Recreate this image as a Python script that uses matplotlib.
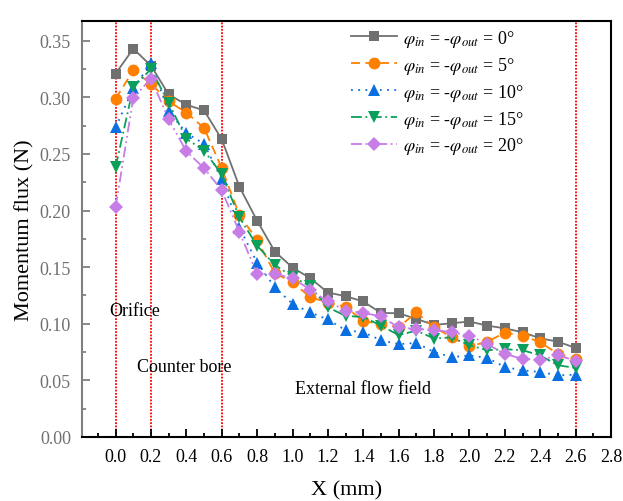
import matplotlib
matplotlib.use("Agg")
import matplotlib.pyplot as plt
from matplotlib.ticker import MultipleLocator, FormatStrFormatter

plt.rcParams['font.family'] = ['Liberation Serif', 'DejaVu Serif']
plt.rcParams['mathtext.fontset'] = 'stix'

x = [0.0, 0.1, 0.2, 0.3, 0.4, 0.5, 0.6, 0.7, 0.8, 0.9, 1.0, 1.1, 1.2, 1.3,
     1.4, 1.5, 1.6, 1.7, 1.8, 1.9, 2.0, 2.1, 2.2, 2.3, 2.4, 2.5, 2.6]

phi0 = [0.321, 0.343, 0.328, 0.3026, 0.2935, 0.2885, 0.263, 0.221, 0.191,
        0.1638, 0.1497, 0.1403, 0.1276, 0.1244, 0.1197, 0.1096, 0.1093,
        0.1043, 0.099, 0.1005, 0.102, 0.0984, 0.096, 0.0925, 0.0872, 0.0842, 0.0787]
phi5 = [0.2988, 0.3238, 0.312, 0.2965, 0.2865, 0.273, 0.2375, 0.196, 0.174,
        0.1446, 0.1367, 0.1235, 0.1188, 0.115, 0.1023, 0.100, 0.097,
        0.110, 0.097, 0.088, 0.080, 0.0842, 0.092, 0.0896, 0.0837, 0.0734, 0.069]
phi10 = [0.2735, 0.308, 0.330, 0.2876, 0.2685, 0.259, 0.2275, 0.185, 0.1538,
         0.1323, 0.1176, 0.110, 0.1038, 0.0943, 0.0925, 0.0855, 0.082,
         0.0831, 0.075, 0.0706, 0.072, 0.070, 0.0618, 0.0589, 0.0574, 0.0545, 0.055]
phi15 = [0.2385, 0.309, 0.325, 0.295, 0.2635, 0.253, 0.232, 0.194, 0.169,
         0.152, 0.1417, 0.133, 0.1145, 0.107, 0.106, 0.0984, 0.090,
         0.094, 0.087, 0.088, 0.081, 0.0767, 0.0775, 0.0767, 0.072, 0.0634, 0.061]
phi20 = [0.203, 0.2997, 0.3165, 0.2807, 0.2523, 0.2375, 0.218, 0.181, 0.144,
         0.144, 0.1403, 0.130, 0.1197, 0.1117, 0.1096, 0.1066, 0.0968,
         0.0953, 0.0947, 0.0925, 0.0896, 0.0822, 0.0734, 0.069, 0.068, 0.072, 0.0675]

angles = ['0', '5', '10', '15', '20']
region_lines = [0.0, 0.2, 0.6, 2.6]
region_labels = ['Orifice', 'Counter bore', 'External flow field']

series = [phi0, phi5, phi10, phi15, phi20]
colors = ['#707070', '#FF8000', '#0A6FE0', '#0AA05A', '#C77CE6']
markers = ['s', 'o', '^', 'v', 'D']
styles = ['-', (0, (5, 3)), (0, (1, 3)), (0, (6, 2, 1, 2)), (0, (6, 2, 1, 2, 1, 2))]
msizes = [7.5, 8.5, 9, 9, 7.5]

fig = plt.figure(figsize=(6.23, 5.02), dpi=100)
ax = fig.add_axes([0.1316, 0.1275, 0.8491, 0.8287])

for xv in region_lines:
    ax.axvline(xv, color='red', linestyle=(0, (1, 0.8)), linewidth=1.3, zorder=1)

for s, c, m, ls, ms, a in zip(series, colors, markers, styles, msizes, angles):
    ax.plot(x, s, color=c, marker=m, linestyle=ls, linewidth=1.3, markersize=ms,
            markeredgewidth=0, zorder=3,
            label=r'$\varphi_{in}$ = -$\varphi_{out}$ = ' + a + '°')

ax.set_xlim(-0.19, 2.8)
ax.set_ylim(0, 0.3675)
ax.xaxis.set_minor_locator(MultipleLocator(0.1))
ax.yaxis.set_major_locator(MultipleLocator(0.05))
ax.yaxis.set_minor_locator(MultipleLocator(0.025))
ax.xaxis.set_major_formatter(FormatStrFormatter('%.1f'))
ax.yaxis.set_major_formatter(FormatStrFormatter('%.2f'))
ax.set_xticks([v / 10 for v in range(0, 29, 2)])

ax.tick_params(axis='x', which='major', direction='in', length=6, width=1.3,
               color='black', labelsize=13, labelcolor='black', pad=8)
ax.tick_params(axis='x', which='minor', direction='in', length=3, width=1.3, color='black')
ax.tick_params(axis='y', which='major', direction='in', length=6, width=1.3,
               color='#808080', labelsize=13, labelcolor='#707070', pad=8)
ax.tick_params(axis='y', which='minor', direction='in', length=3, width=1.3, color='#808080')

for side in ['top', 'right', 'bottom']:
    ax.spines[side].set_color('black')
    ax.spines[side].set_linewidth(1.5)
ax.spines['left'].set_color('#808080')
ax.spines['left'].set_linewidth(1.5)

ax.set_xlabel('X (mm)', fontsize=16, labelpad=11)
ax.set_ylabel('Momentum flux (N)', fontsize=16)
ax.yaxis.set_label_coords(-0.09, 0.5)

ax.text(-0.034, 0.112, region_labels[0], fontsize=13, va='center', ha='left', zorder=4)
ax.text(0.12, 0.062, region_labels[1], fontsize=13, va='center', ha='left', zorder=4)
ax.text(1.015, 0.0425, region_labels[2], fontsize=13, va='center', ha='left', zorder=4)

leg = ax.legend(loc='upper right', bbox_to_anchor=(0.855, 1.01), frameon=False,
                fontsize=13, handlelength=2.6, handletextpad=0.3,
                labelspacing=0.33, borderaxespad=0.2)

fig.savefig('out.png', dpi=100)
